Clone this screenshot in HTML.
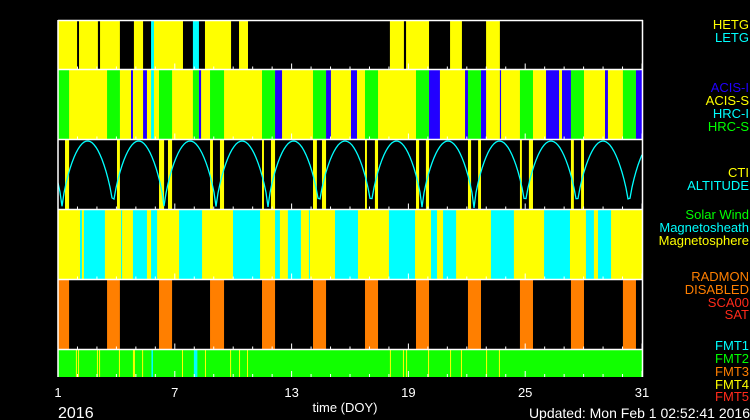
<!DOCTYPE html>
<html><head><meta charset="utf-8"><style>
html,body{margin:0;padding:0;background:#000;}
svg{display:block;font-family:"Liberation Sans",sans-serif;}
</style></head><body>
<svg id="chart" width="750" height="420" viewBox="0 0 750 420">
<rect width="750" height="420" fill="#000"/>
<g id="plots"></g>
<g id="axes"></g>
<g id="legend" font-size="13" text-anchor="end">
<text x="749" y="29" fill="#ffff00">HETG</text>
<text x="749" y="42" fill="#00ffff">LETG</text>
<text x="749" y="92" fill="#2200ff">ACIS-I</text>
<text x="749" y="105" fill="#ffff00">ACIS-S</text>
<text x="749" y="118" fill="#00ffff">HRC-I</text>
<text x="749" y="131" fill="#00ff00">HRC-S</text>
<text x="749" y="177" fill="#ffff00">CTI</text>
<text x="749" y="190" fill="#00ffff">ALTITUDE</text>
<text x="749" y="219" fill="#00ff00">Solar Wind</text>
<text x="749" y="232" fill="#00ffff">Magnetosheath</text>
<text x="749" y="245" fill="#ffff00">Magnetosphere</text>
<text x="749" y="281" fill="#ff7f00">RADMON</text>
<text x="749" y="294" fill="#ff7f00">DISABLED</text>
<text x="749" y="307" fill="#ff2a1a">SCA00</text>
<text x="749" y="319" fill="#ff2a1a">SAT</text>
<text x="749" y="350" fill="#00ffff">FMT1</text>
<text x="749" y="363" fill="#00ff00">FMT2</text>
<text x="749" y="376" fill="#ff7f00">FMT3</text>
<text x="749" y="389" fill="#ffff00">FMT4</text>
<text x="749" y="401" fill="#ff2a1a">FMT5</text>
</g>
<text x="345" y="412" fill="#fff" font-size="13" text-anchor="middle">time (DOY)</text>
<text x="58" y="418" fill="#fff" font-size="16">2016</text>
<text x="750" y="418" fill="#fff" font-size="14" text-anchor="end">Updated: Mon Feb  1 02:52:41 2016</text>
</svg>
<script>
// ---- data (days of year) ----
const gratingHetg = [[1,1.98],[2.08,3.05],[3.16,4.18],[4.9,5.37],[5.93,7.42],[8.55,9.89],[10.3,10.76],[18.05,18.77],[18.88,20.06],[21.14,21.75],[22.99,23.7]];
const gratingLetg = [[5.78,5.93],[7.93,8.24]];
const instHrcS = [[1,1.57],[3.52,4.18],[6.19,6.86],[7.93,8.24],[8.81,9.53],[11.48,12.15],[14.1,14.77],[16.77,17.44],[19.39,20.06],[22.06,22.73],[24.73,25.4],[27.35,28.02],[30.02,30.69]];
const instAcisI = [[4.75,4.85],[5.37,5.57],[8.24,8.35],[12.15,12.51],[14.77,15.02],[16.05,16.36],[20.06,20.62],[21.91,22.06],[22.73,22.99],[23.7,23.76],[26.07,26.74],[26.89,27.35],[29.1,29.25],[30.69,31]];
const instHrcI = [[5.78,5.93]];
const ctiPeriods = [[1.36,1.57],[4.03,4.18],[6.19,6.45],[6.65,6.86],[8.81,8.96],[9.32,9.53],[11.48,11.58],[11.94,12.15],[14.1,14.3],[14.56,14.77],[16.77,16.87],[17.28,17.44],[19.39,19.55],[19.9,20.06],[22.06,22.22],[22.58,22.73],[24.73,24.83],[25.19,25.4],[27.35,27.5],[27.87,28.02]];
const perigeeDays = [1.21,3.83,6.45,9.12,11.79,14.41,17.08,19.7,22.37,24.99,27.66,30.33];
const magnetosheath = [[2.13,2.23],[2.33,3.41],[4.24,4.29],[4.85,5.57],[5.78,6.09],[7.22,8.4],[9.99,11.38],[12.15,12.4],[12.81,13.48],[13.89,13.94],[15.23,16.41],[18.0,19.34],[20.16,20.47],[20.78,21.45],[23.24,24.42],[25.97,27.3],[28.12,28.53],[28.74,29.41]];
const radmonDisabled = [[1,1.57],[3.52,4.18],[6.19,6.86],[8.81,9.53],[11.48,12.15],[14.1,14.77],[16.77,17.44],[19.39,20.06],[22.06,22.73],[24.73,25.4],[27.35,28.02],[30.02,30.69]];
const fmt4Days = [1.92,2.03,3.0,3.11,4.13,4.85,4.9,5.32,7.37,8.55,9.84,10.3,10.71,18.05,18.72,18.88,20.01,21.14,21.7,22.99,23.65];
const fmt1Spans = [[5.8,5.88],[7.98,8.16]];
const tickLabels = [1,7,13,19,25,31];

// ---- axis ----
const X0=58, X1=642, D0=1, D1=31;
const xs = d => X0 + (d-D0)/(D1-D0)*(X1-X0);
const NS='http://www.w3.org/2000/svg';
const plots=document.getElementById('plots'), axes=document.getElementById('axes');
function rect(parent,x,y,w,h,fill,name){
  const r=document.createElementNS(NS,'rect');
  r.setAttribute('x',x);r.setAttribute('y',y);r.setAttribute('width',Math.max(w,1));r.setAttribute('height',h);r.setAttribute('fill',fill);
  
  
  parent.appendChild(r);return r;
}
function spans(arr,y,h,fill,name){arr.forEach(s=>rect(plots,xs(s[0]),y,xs(s[1])-xs(s[0]),h,fill,name));}
const P=[[21,48],[70,69],[140,69],[210,69],[280,69],[350,27]];
// panel 1
rect(plots,X0,P[0][0],X1-X0,P[0][1],'#000','grating-panel-bg');
spans(gratingHetg,P[0][0],P[0][1],'#ffff00','hetg-span');
spans(gratingLetg,P[0][0],P[0][1],'#00ffff','letg-span');
// panel 2
rect(plots,X0,P[1][0],X1-X0,P[1][1],'#ffff00','acis-s-background');
spans(instHrcS,P[1][0],P[1][1],'#11ff00','hrc-s-span');
spans(instAcisI,P[1][0],P[1][1],'#2200ff','acis-i-span');
spans(instHrcI,P[1][0],P[1][1],'#00ffff','hrc-i-span');
// panel 3
spans(ctiPeriods,P[2][0],P[2][1],'#ffff00','cti-span');
(function(){
  const top=P[2][0]+1, bot=P[2][0]+P[2][1]-1;
  const pts=[];
  const per=perigeeDays.slice();
  const first=per[0]-(per[1]-per[0]), last=per[per.length-1]+(per[1]-per[0]);
  const all=[first].concat(per,[last]);
  for(let px=X0;px<=X1;px+=2){
    const d=D0+(px-X0)/(X1-X0)*(D1-D0);
    let i=0; while(i<all.length-2 && all[i+1]<d) i++;
    const a=all[i], b=all[i+1];
    const t=(d-a)/(b-a);
    const v=Math.pow(Math.sin(Math.PI*t),0.7);
    pts.push(px+','+(bot-(bot-top)*v).toFixed(1));
  }
  const pl=document.createElementNS(NS,'polyline');
  pl.setAttribute('points',pts.join(' '));pl.setAttribute('fill','none');pl.setAttribute('stroke','#00ffff');pl.setAttribute('stroke-width','1.3');
  
  
  plots.appendChild(pl);
})();
// panel 4
rect(plots,X0,P[3][0],X1-X0,P[3][1],'#ffff00','magnetosphere-background');
spans(magnetosheath,P[3][0],P[3][1],'#00ffff','magnetosheath-span');
// panel 5
spans(radmonDisabled,P[4][0],P[4][1],'#ff7f00','radmon-disabled-span');
// panel 6
rect(plots,X0,P[5][0],X1-X0,P[5][1],'#11ff00','fmt2-background');
fmt4Days.forEach(d=>rect(plots,xs(d),P[5][0],1,P[5][1],'#ffff00','fmt4-line'));
spans(fmt1Spans,P[5][0],P[5][1],'#00ffff','fmt1-span');

// frame / separators
[[20.5],[69.5],[139.5],[209.5],[279.5],[349.5]].forEach(a=>{
  const l=document.createElementNS(NS,'line');
  l.setAttribute('x1',X0);l.setAttribute('x2',X1+1);l.setAttribute('y1',a[0]);l.setAttribute('y2',a[0]);
  l.setAttribute('stroke','#fff');l.setAttribute('stroke-width','1.5');
  
  
  axes.appendChild(l);
});
[[X0,20,X0,377],[X1+0.5,20,X1+0.5,377]].forEach(c=>{
  const l=document.createElementNS(NS,'line');
  l.setAttribute('x1',c[0]);l.setAttribute('y1',c[1]);l.setAttribute('x2',c[2]);l.setAttribute('y2',c[3]);
  l.setAttribute('stroke','#fff');l.setAttribute('stroke-width','1.5');
  
  
  axes.appendChild(l);
});
// ticks
for(let d=D0; d<=D1; d++){
  const major=tickLabels.indexOf(d)>=0;
  [69.5,139.5,209.5,279.5,349.5,377].forEach(y=>{
    const l=document.createElementNS(NS,'line');
    l.setAttribute('x1',xs(d));l.setAttribute('x2',xs(d));l.setAttribute('y1',y);l.setAttribute('y2',y-(major?6:3));
    l.setAttribute('stroke','#fff');l.setAttribute('stroke-width','1');
    
    
    axes.appendChild(l);
  });
}
tickLabels.forEach(d=>{
  const t=document.createElementNS(NS,'text');
  t.setAttribute('x',xs(d));t.setAttribute('y',397);t.setAttribute('fill','#fff');t.setAttribute('font-size','13');t.setAttribute('text-anchor','middle');
  t.textContent=d;
  
  
  axes.appendChild(t);
});
</script>
</body></html>
